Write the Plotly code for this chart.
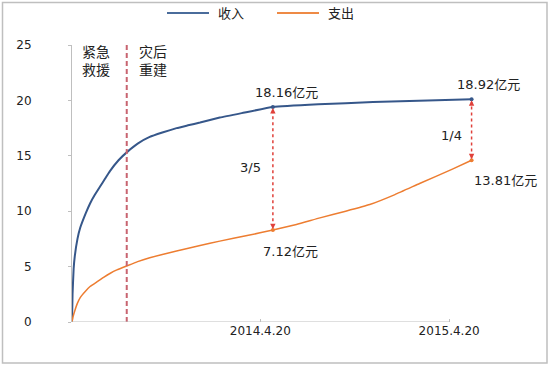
import plotly.graph_objects as go

# ---- data (days since 2013.4.20) ----
income_days = [0, 1, 3, 5, 10, 15, 25, 33, 42, 51, 60, 69, 85, 102, 120, 142, 165, 191, 212, 234, 270, 310, 367, 450, 550, 650, 730]
income_vals = [0, 2.5, 4.8, 5.9, 7.5, 8.5, 9.8, 10.7, 11.5, 12.2, 12.9, 13.6, 14.6, 15.4, 16.1, 16.7, 17.1, 17.5, 17.75, 18.0, 18.45, 18.85, 19.4, 19.65, 19.85, 20.0, 20.1]
expense_days = [0, 2, 5, 10, 15, 25, 33, 45, 57, 70, 82, 102, 120, 142, 165, 191, 234, 270, 320, 367, 410, 453, 500, 544, 590, 635, 695, 730]
expense_vals = [0, 0.5, 1.0, 1.7, 2.2, 2.8, 3.2, 3.6, 4.0, 4.4, 4.7, 5.1, 5.45, 5.8, 6.1, 6.4, 6.9, 7.3, 7.8, 8.3, 8.8, 9.4, 10.0, 10.6, 11.5, 12.5, 13.8, 14.6]
series_names = ["收入", "支出"]
key_days = [367, 730]
income_labels = ["18.16亿元", "18.92亿元"]
expense_labels = ["7.12亿元", "13.81亿元"]
ratio_labels = ["3/5", "1/4"]
tick_days = [344, 689]
tick_text = ["2014.4.20", "2015.4.20"]
phase_day = 100
phase_labels = ["紧急<br>救援", "灾后<br>重建"]
phase_label_days = [15, 118]

BLUE = "#36578A"
ORANGE = "#ED7D31"
RED = "#E0403A"
GRAY = "#BFBFBF"
NUM = "DejaVu Sans, Noto Sans CJK SC"
CJK = "Noto Sans CJK SC"

# plot area geometry (pixels) used for paper-coordinate placement of legend/border
L, R, T, B, W, H = 72, 62, 45, 45, 550, 367
PW, PH = W - L - R, H - T - B
def px(x):
    return (x - L) / PW
def py(y):
    return (H - B - y) / PH

def val_at(days, vals, d):
    return vals[days.index(d)]

inc_key = [val_at(income_days, income_vals, d) for d in key_days]
exp_key = [val_at(expense_days, expense_vals, d) for d in key_days]

fig = go.Figure()
fig.add_trace(go.Scatter(x=income_days, y=income_vals, mode="lines", name=series_names[0],
                         line=dict(color=BLUE, width=2, shape="spline", smoothing=0.4)))
fig.add_trace(go.Scatter(x=expense_days, y=expense_vals, mode="lines", name=series_names[1],
                         line=dict(color=ORANGE, width=1.5, shape="spline", smoothing=0.4)))
fig.add_trace(go.Scatter(x=key_days, y=inc_key, mode="markers", showlegend=False,
                         marker=dict(color=BLUE, size=4)))
fig.add_trace(go.Scatter(x=key_days, y=exp_key, mode="markers", showlegend=False,
                         marker=dict(color=ORANGE, size=4)))

shapes = []
shapes.append(dict(type="line", xref="x", yref="y", x0=phase_day, x1=phase_day, y0=0, y1=25,
                   line=dict(color="#C86470", width=2, dash="5px,3px")))
shapes.append(dict(type="line", xref="x", yref="y", x0=0, x1=tick_days[-1], y0=0, y1=0,
                   line=dict(color=GRAY, width=1)))
shapes.append(dict(type="rect", xref="paper", yref="paper", x0=px(2.5), x1=px(547), y0=py(2.5), y1=py(363),
                   line=dict(color=GRAY, width=1.5)))

annotations = []
# custom legend (long line samples like the original)
legend_items = [(series_names[0], "#4A6C9B", 167), (series_names[1], "#EE8A45", 277)]
for name, col, x0 in legend_items:
    shapes.append(dict(type="line", xref="paper", yref="paper", x0=px(x0), x1=px(x0 + 42),
                       y0=py(13), y1=py(13), line=dict(color=col, width=2)))
    annotations.append(dict(x=px(x0 + 49), y=py(13), xref="paper", yref="paper", xanchor="left",
                            yanchor="middle", text=name, showarrow=False,
                            font=dict(family=CJK, size=13, color="#222")))

for d, yi, ye in zip(key_days, inc_key, exp_key):
    shapes.append(dict(type="line", xref="x", yref="y", x0=d, x1=d, y0=ye + 0.25, y1=yi - 0.25,
                       line=dict(color=RED, width=1.5, dash="dot")))
    annotations.append(dict(x=d, y=yi, xref="x", yref="y", ax=0, ay=7, text="", showarrow=True,
                            arrowhead=2, arrowsize=0.9, arrowwidth=1.2, arrowcolor=RED, standoff=1))
    annotations.append(dict(x=d, y=ye, xref="x", yref="y", ax=0, ay=-7, text="", showarrow=True,
                            arrowhead=2, arrowsize=0.9, arrowwidth=1.2, arrowcolor=RED, standoff=1))

lab_font = dict(family=NUM, size=13, color="#222")
annotations.append(dict(x=key_days[0], y=inc_key[0], xref="x", yref="y", text=income_labels[0],
                        showarrow=False, xshift=14, yshift=15, font=lab_font))
annotations.append(dict(x=key_days[1], y=inc_key[1], xref="x", yref="y", text=income_labels[1],
                        showarrow=False, xshift=17, yshift=15, font=lab_font))
annotations.append(dict(x=key_days[0], y=exp_key[0], xref="x", yref="y", text=expense_labels[0],
                        showarrow=False, xshift=18, yshift=-21, font=lab_font))
annotations.append(dict(x=key_days[1], y=exp_key[1], xref="x", yref="y", text=expense_labels[1],
                        showarrow=False, xshift=34, yshift=-20, font=lab_font))
annotations.append(dict(x=327, y=13.9, xref="x", yref="y", text=ratio_labels[0], showarrow=False, font=lab_font))
annotations.append(dict(x=694, y=16.8, xref="x", yref="y", text=ratio_labels[1], showarrow=False, font=lab_font))
for d, t in zip(phase_label_days, phase_labels):
    annotations.append(dict(x=d, y=24.9, xref="x", yref="y", xanchor="left", yanchor="top", text=t,
                            yshift=4, showarrow=False, align="left",
                            font=dict(family=NUM, size=14, color="#222")))

fig.update_layout(
    width=W, height=H,
    margin=dict(l=L, r=R, t=T, b=B, autoexpand=False),
    paper_bgcolor="white", plot_bgcolor="white",
    showlegend=False,
    xaxis=dict(range=[0, 760], showgrid=False, zeroline=False, showline=False,
               tickvals=tick_days, ticktext=tick_text, ticks="inside", ticklen=3, tickcolor=GRAY,
               tickfont=dict(family=NUM, size=12, color="#222")),
    yaxis=dict(range=[0, 25], showgrid=False, zeroline=False, showline=True, linecolor=GRAY,
               tickvals=[0, 5, 10, 15, 20, 25], ticks="outside", ticklen=3, tickcolor=GRAY,
               ticklabelstandoff=34, tickfont=dict(family=NUM, size=12, color="#222")),
    shapes=shapes, annotations=annotations,
)

fig.write_html("out.html", config={"displayModeBar": False},
               post_script="document.body.style.margin='0';")
